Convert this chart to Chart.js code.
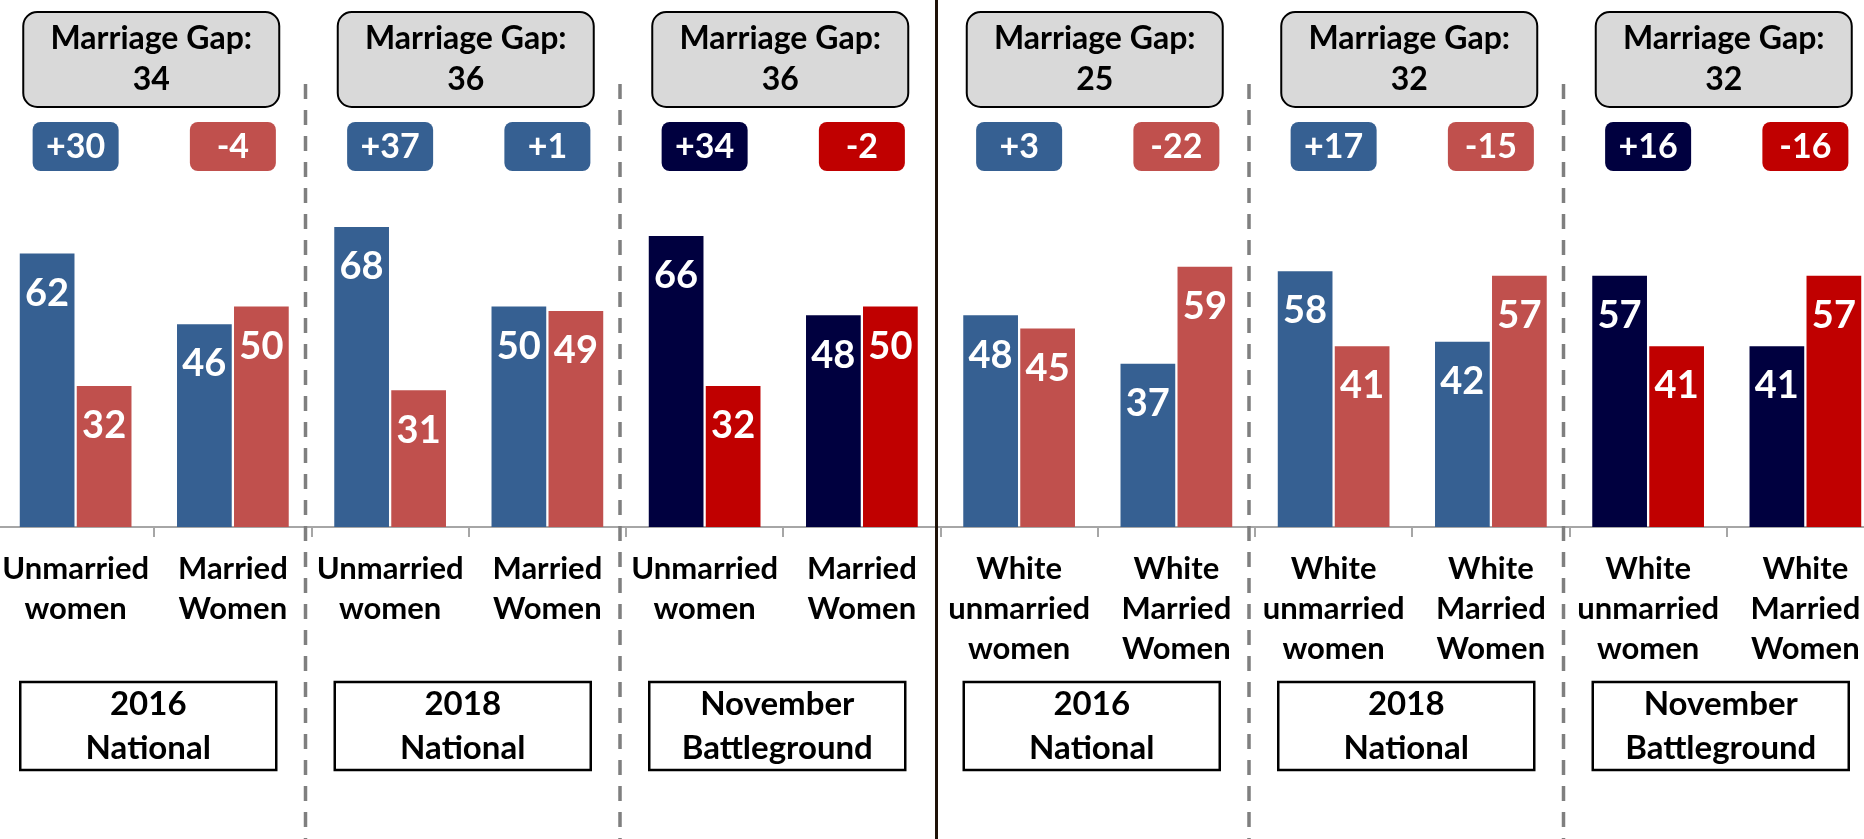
<!DOCTYPE html>
<html>
<head>
<meta charset="utf-8">
<script src="https://cdn.jsdelivr.net/npm/chart.js@4.4.1/dist/chart.umd.min.js"></script>
<style>
  html, body { margin: 0; padding: 0; background: #fff; overflow: hidden; }
  #wrap { position: absolute; left: -3px; top: 0; width: 1887px; height: 839px; }
</style>
</head>
<body>
<div id="wrap"><canvas id="myChart"></canvas></div>
<script>
const categories = [
    ['Unmarried', 'women'], ['Married', 'Women'],
    ['Unmarried', 'women'], ['Married', 'Women'],
    ['Unmarried', 'women'], ['Married', 'Women'],
    ['White', 'unmarried', 'women'], ['White', 'Married', 'Women'],
    ['White', 'unmarried', 'women'], ['White', 'Married', 'Women'],
    ['White', 'unmarried', 'women'], ['White', 'Married', 'Women'],
];
const demValues = [62, 46, 68, 50, 66, 48, 48, 37, 58, 42, 57, 41];
const repValues = [32, 50, 31, 49, 32, 50, 45, 59, 41, 57, 41, 57];
const margins = ['+30', '-4', '+37', '+1', '+34', '-2', '+3', '-22', '+17', '-15', '+16', '-16'];
const marriageGaps = ['34', '36', '36', '25', '32', '32'];
const panelTitles = [
    ['2016', 'National'], ['2018', 'National'], ['November', 'Battleground'],
    ['2016', 'National'], ['2018', 'National'], ['November', 'Battleground'],
];
const battleground = [false, false, true, false, false, true];

const BLUE = '#366092';
const RED = '#c0504d';
const NAVY = '#00003f';
const DARK_RED = '#c00000';
const FONT = 'Lato';

const demColors = categories.map((c, i) => battleground[Math.floor(i / 2)] ? NAVY : BLUE);
const repColors = categories.map((c, i) => battleground[Math.floor(i / 2)] ? DARK_RED : RED);

function roundBox(ctx, x, y, w, h, r) {
    ctx.beginPath();
    ctx.moveTo(x + r, y);
    ctx.arcTo(x + w, y, x + w, y + h, r);
    ctx.arcTo(x + w, y + h, x, y + h, r);
    ctx.arcTo(x, y + h, x, y, r);
    ctx.arcTo(x, y, x + w, y, r);
    ctx.closePath();
}

const decorations = {
    id: 'decorations',
    afterDatasetsDraw(chart) {
        const ctx = chart.ctx;
        ctx.save();
        ctx.fillStyle = '#fff';
        ctx.font = `bold 38px ${FONT}`;
        ctx.textAlign = 'center';
        ctx.textBaseline = 'middle';
        chart.data.datasets.forEach((ds, d) => {
            chart.getDatasetMeta(d).data.forEach((bar, i) => {
                ctx.fillText(ds.data[i], bar.x, bar.y + 40);
            });
        });
        ctx.restore();
    },
    afterDraw(chart) {
        const ctx = chart.ctx;
        const xs = chart.scales.x;
        const step = xs.getPixelForValue(1) - xs.getPixelForValue(0);
        ctx.save();
        ctx.textAlign = 'center';
        ctx.textBaseline = 'middle';

        // margin boxes over each category
        margins.forEach((m, i) => {
            const cx = xs.getPixelForValue(i);
            const bg = battleground[Math.floor(i / 2)];
            ctx.fillStyle = m.startsWith('-') ? (bg ? DARK_RED : RED) : (bg ? NAVY : BLUE);
            roundBox(ctx, cx - 43, 122, 86, 49, 8);
            ctx.fill();
            ctx.fillStyle = '#fff';
            ctx.font = `bold 34px ${FONT}`;
            ctx.fillText(m, cx, 147);
        });

        // panel headers and footers
        panelTitles.forEach((t, p) => {
            const cx = (xs.getPixelForValue(2 * p) + xs.getPixelForValue(2 * p + 1)) / 2;

            roundBox(ctx, cx - 3 - 128, 12, 256, 95, 14);
            ctx.fillStyle = '#d9d9d9';
            ctx.fill();
            ctx.lineWidth = 2;
            ctx.strokeStyle = '#000';
            ctx.stroke();
            ctx.fillStyle = '#000';
            ctx.font = `bold 32px ${FONT}`;
            ctx.fillText('Marriage Gap:', cx - 3, 39);
            ctx.fillText(marriageGaps[p], cx - 3, 80);

            ctx.fillStyle = '#fff';
            ctx.fillRect(cx - 6 - 128, 682, 256, 88);
            ctx.lineWidth = 2.5;
            ctx.strokeRect(cx - 6 - 128, 682, 256, 88);
            ctx.fillStyle = '#000';
            ctx.font = `bold 33px ${FONT}`;
            ctx.fillText(t[0], cx - 6, 704);
            ctx.fillText(t[1], cx - 6, 748);
        });

        // dividers between panels
        for (let p = 1; p < panelTitles.length; p++) {
            const x = xs.getPixelForValue(2 * p) - step / 2 - 6;
            ctx.beginPath();
            if (p === 3) {
                ctx.setLineDash([]);
                ctx.strokeStyle = '#1e1208';
                ctx.lineWidth = 3;
                ctx.moveTo(x + 2, 0);
                ctx.lineTo(x + 2, 839);
            } else {
                ctx.setLineDash([15, 11]);
                ctx.strokeStyle = '#7f7f7f';
                ctx.lineWidth = 3.5;
                ctx.moveTo(x, 84);
                ctx.lineTo(x, 839);
            }
            ctx.stroke();
        }
        ctx.restore();
    }
};

const data = {
    labels: categories,
    datasets: [
        { data: demValues, backgroundColor: demColors },
        { data: repValues, backgroundColor: repColors },
    ]
};

const config = {
    type: 'bar',
    data: data,
    options: {
        responsive: true,
        maintainAspectRatio: false,
        animation: false,
        layout: { padding: { top: 86, left: 0, right: 0, bottom: 0 } },
        datasets: { bar: { categoryPercentage: 0.725, barPercentage: 0.96 } },
        plugins: { legend: { display: false }, tooltip: { enabled: false } },
        scales: {
            y: { display: false, min: 0, max: 100 },
            x: {
                grid: { offset: true, drawOnChartArea: false, tickLength: 10, color: '#a6a6a6', lineWidth: 2 },
                border: { display: true, color: '#a6a6a6', width: 2 },
                ticks: {
                    color: '#000',
                    font: { family: FONT, size: 31, weight: 'bold', lineHeight: '40px' },
                    padding: 12,
                    maxRotation: 0,
                    autoSkip: false
                },
                afterFit: (scale) => {
                    scale.height = 312;
                    scale.paddingLeft = 0;
                    scale.paddingRight = 0;
                }
            }
        }
    },
    plugins: [decorations]
};

const chart = new Chart(document.getElementById('myChart'), config);
</script>
</body>
</html>
